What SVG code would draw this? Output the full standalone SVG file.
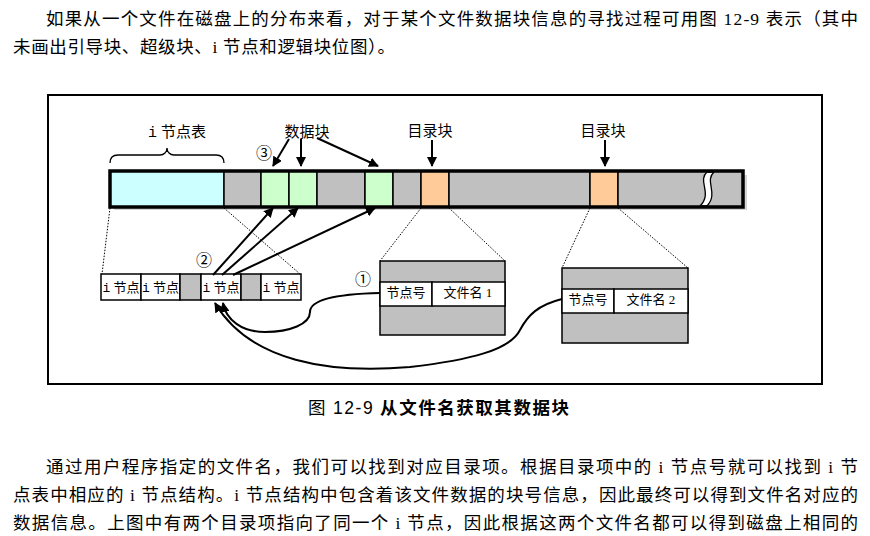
<svg xmlns="http://www.w3.org/2000/svg" width="870" height="536" viewBox="0 0 870 536">
<defs>
<marker id="ah" viewBox="0 0 10 10" refX="9" refY="5" markerWidth="10" markerHeight="10" markerUnits="userSpaceOnUse" orient="auto">
<path d="M0,0 L10,5 L0,10 Z" fill="#000"/>
</marker>
</defs>
<style>
.para{font-family:"Liberation Serif","Noto Sans CJK SC",serif;font-size:17.5px;fill:#000}
.lbl{font-family:"Liberation Serif","Noto Sans CJK SC",serif;font-size:15px;fill:#000;text-anchor:middle}
.cell{font-family:"Liberation Serif","Noto Sans CJK SC",serif;font-size:13px;fill:#000;text-anchor:middle}
.mono{font-family:"Liberation Mono",monospace}
.num{font-family:"Noto Sans CJK SC",sans-serif;font-size:16px;fill:#000;text-anchor:middle}
.blk{stroke:#000;stroke-width:1.5}
.gray{fill:#C0C0C0}
.white{fill:#FFFFFF}
.dot{stroke:#000;stroke-width:1;stroke-dasharray:1.5 1.5;fill:none}
.arr{stroke:#000;stroke-width:2;fill:none;marker-end:url(#ah)}
</style>
<rect width="870" height="536" fill="#fff"/>
<g id="top-text">
<text class="para" x="46" y="24.5" textLength="812" lengthAdjust="spacing">如果从一个文件在磁盘上的分布来看，对于某个文件数据块信息的寻找过程可用图 12-9 表示（其中</text>
<text class="para" x="13" y="52.5" textLength="382" lengthAdjust="spacing">未画出引导块、超级块、i 节点和逻辑块位图）。</text>
</g>
<g id="frame"><rect x="48" y="95" width="774" height="289" fill="none" stroke="#000" stroke-width="2"/></g>
<g id="disk">
<rect x="114" y="175" width="633" height="35" fill="#D4D4D4"/>
<rect class="blk" x="110" y="171" width="114" height="36" fill="#CCFFFF"/>
<rect class="blk gray" x="224" y="171" width="37" height="36"/>
<rect class="blk" x="261" y="171" width="28" height="36" fill="#CCFFCC"/>
<rect class="blk" x="289" y="171" width="28" height="36" fill="#CCFFCC"/>
<rect class="blk gray" x="317" y="171" width="48" height="36"/>
<rect class="blk" x="365" y="171" width="28" height="36" fill="#CCFFCC"/>
<rect class="blk gray" x="393" y="171" width="28" height="36"/>
<rect class="blk" x="421" y="171" width="28" height="36" fill="#FFCC99"/>
<rect class="blk gray" x="449" y="171" width="141" height="36"/>
<rect class="blk" x="590" y="171" width="28" height="36" fill="#FFCC99"/>
<rect class="blk gray" x="618" y="171" width="125" height="36"/>
<path d="M707 172 C697 181 713 193 700 206 L707 206 C719 193 704 181 714 172 Z" fill="#fff" stroke="#000" stroke-width="1.3"/>
<rect x="110" y="171" width="633" height="36" fill="none" stroke="#000" stroke-width="3.5"/>
</g>
<g id="inode-table-label">
<path d="M110 163 C110 157 113 155 118 155 L160 155 C164 155 167 152 167 148 C167 152 170 155 174 155 L216 155 C221 155 224 157 224 163" fill="none" stroke="#000" stroke-width="1.3"/>
<text class="lbl" x="177" y="137"><tspan class="mono">i</tspan> 节点表</text>
</g>
<g id="data-label"><text class="lbl" x="307" y="137">数据块</text></g>
<g id="dir-label-1"><text class="lbl" x="430" y="136">目录块</text></g>
<g id="dir-label-2"><text class="lbl" x="603" y="136">目录块</text></g>
<g id="inode-row">
<rect class="blk white" x="101" y="274" width="40" height="26"/>
<rect class="blk white" x="141" y="274" width="39" height="26"/>
<rect class="blk gray" x="180" y="274" width="21" height="26"/>
<rect class="blk white" x="201" y="274" width="40" height="26"/>
<rect class="blk gray" x="241" y="274" width="20" height="26"/>
<rect class="blk white" x="261" y="274" width="40" height="26"/>
<text class="cell" x="121" y="291.5"><tspan class="mono">i</tspan> 节点</text>
<text class="cell" x="160.5" y="291.5"><tspan class="mono">i</tspan> 节点</text>
<text class="cell" x="221" y="291.5"><tspan class="mono">i</tspan> 节点</text>
<text class="cell" x="281" y="291.5"><tspan class="mono">i</tspan> 节点</text>
</g>
<g id="dir-block-1">
<rect class="blk gray" x="380" y="261" width="125" height="74"/>
<rect class="blk white" x="380" y="282" width="52" height="24"/>
<rect class="blk white" x="432" y="282" width="73" height="24"/>
<text class="cell" x="406" y="297">节点号</text>
<text class="cell" x="468" y="297">文件名 1</text>
</g>
<g id="dir-block-2">
<rect class="blk gray" x="562" y="268" width="126" height="75"/>
<rect class="blk white" x="562" y="289" width="52" height="24"/>
<rect class="blk white" x="614" y="289" width="74" height="24"/>
<text class="cell" x="588" y="304">节点号</text>
<text class="cell" x="651" y="304">文件名 2</text>
</g>
<g id="step-numbers">
<text class="num" x="264" y="159">③</text>
<text class="num" x="204" y="266">②</text>
<text class="num" x="363" y="285">①</text>
</g>
<g id="connectors">
<line class="dot" x1="110" y1="208" x2="102" y2="274"/>
<line class="dot" x1="224" y1="208" x2="300" y2="274"/>
<line class="dot" x1="421" y1="208" x2="380" y2="261"/>
<line class="dot" x1="449" y1="208" x2="505" y2="261"/>
<line class="dot" x1="590" y1="208" x2="562" y2="268"/>
<line class="dot" x1="618" y1="208" x2="688" y2="268"/>
<line class="arr" x1="289" y1="139" x2="273" y2="166"/>
<line class="arr" x1="301" y1="139" x2="301" y2="166"/>
<line class="arr" x1="317" y1="138" x2="378" y2="166"/>
<line class="arr" x1="432" y1="140" x2="432" y2="166"/>
<line class="arr" x1="605" y1="140" x2="605" y2="166"/>
<line class="arr" x1="213" y1="275" x2="273" y2="208"/>
<line class="arr" x1="222" y1="275" x2="298" y2="208"/>
<line class="arr" x1="233" y1="275" x2="375" y2="208"/>
<path class="arr" d="M380 293 C335 294 310 300 310 312 C310 324 290 332 265 332 C242 332 226 320 223 303"/>
<path class="arr" d="M562 299 C538 305 528 315 520 330 C510 350 470 360 410 367 C330 374 250 362 215 303"/>
</g>
<g id="caption">
<text class="para" x="308" y="414" textLength="261" lengthAdjust="spacing">图 <tspan font-family="Liberation Sans, sans-serif">12-9</tspan> <tspan font-weight="bold">从文件名获取其数据块</tspan></text>
</g>
<g id="bottom-text">
<text class="para" x="46" y="472.5" textLength="812" lengthAdjust="spacing">通过用户程序指定的文件名，我们可以找到对应目录项。根据目录项中的 i 节点号就可以找到 i 节</text>
<text class="para" x="13" y="500.5" textLength="845" lengthAdjust="spacing">点表中相应的 i 节点结构。i 节点结构中包含着该文件数据的块号信息，因此最终可以得到文件名对应的</text>
<text class="para" x="13" y="528.5" textLength="845" lengthAdjust="spacing">数据信息。上图中有两个目录项指向了同一个 i 节点，因此根据这两个文件名都可以得到磁盘上相同的</text>
</g>
</svg>
